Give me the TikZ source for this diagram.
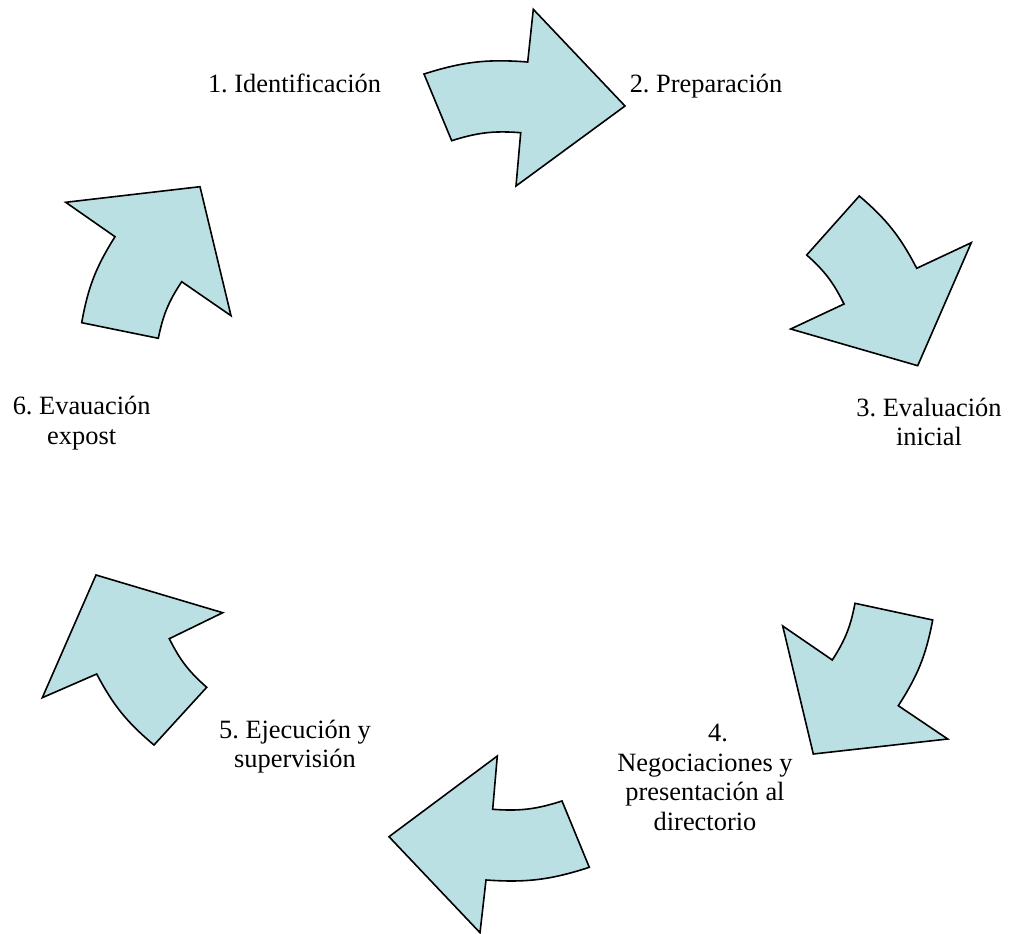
\documentclass[tikz,border=0pt]{standalone}
\usepackage{fontspec}
\setmainfont{Liberation Serif}
\frenchspacing
\definecolor{arrowfill}{HTML}{BBE0E3}
\tikzset{
  cyclearrow/.style={draw=black, fill=arrowfill, line width=1.6pt, line join=miter},
  steplabel/.style={anchor=base, inner sep=0pt, align=center, font=\fontsize{26.4}{29.5}\selectfont},
  outerbend/.style={bend left=11},
  innerbend/.style={bend right=11}
}
\begin{document}
\begin{tikzpicture}[x=1pt, y=-1pt]
\useasboundingbox (0,0) rectangle (1010,934);

% Arrow 1 (top)
\path[cyclearrow] (424,74) to[outerbend] (527.7,62) -- (533.3,9.3) -- (625,106) -- (516,186) -- (520.7,132.7) to[innerbend] (451.7,140.7) -- cycle;
% Arrow 2 (upper right)
\path[cyclearrow] (859.3,196) to[outerbend] (916.7,268.3) -- (971.3,242.7) -- (917.7,365.7) -- (790.7,329) -- (844,304) to[innerbend] (806.7,255) -- cycle;
% Arrow 3 (lower right)
\path[cyclearrow] (855,603.3) -- (932.7,620) to[outerbend] (898.3,705.7) -- (947.7,739) -- (813.3,754) -- (782.7,626) -- (832.3,660) to[innerbend] cycle;
% Arrow 4 (bottom)
\path[cyclearrow] (497.3,756) -- (492.7,809.3) to[innerbend] (562,801) -- (589.3,867.3) to[outerbend] (486,880) -- (480,932.7) -- (389,836.7) -- cycle;
% Arrow 5 (lower left)
\path[cyclearrow] (96,575) -- (222.7,612.7) -- (169.3,638.7) to[innerbend] (206.7,687.3) -- (154,745) to[outerbend] (96.7,674) -- (42.3,697.7) -- cycle;
% Arrow 6 (upper left)
\path[cyclearrow] (65.7,202.3) -- (200,186.7) -- (231,315.7) -- (181.7,281.7) to[innerbend] (158.3,338.3) -- (81.7,322.7) to[outerbend] (115,236.7) -- cycle;

\node[steplabel] (l1) at (294.5,92.7) {1. Identificación};
\node[steplabel] (l2) at (706,92.7) {2. Preparación};
\node[steplabel] (l3) at (929,445.5) {3. Evaluación\\inicial};
\node[steplabel] (l4) at (705,830.2) {\hspace*{26pt}4.\\Negociaciones y\\presentación al\\directorio};
\node[steplabel] (l5) at (295,767.8) {5. Ejecución y\\supervisión};
\node[steplabel] (l6) at (81.7,444) {6. Evauación\\expost};
\end{tikzpicture}
\end{document}
